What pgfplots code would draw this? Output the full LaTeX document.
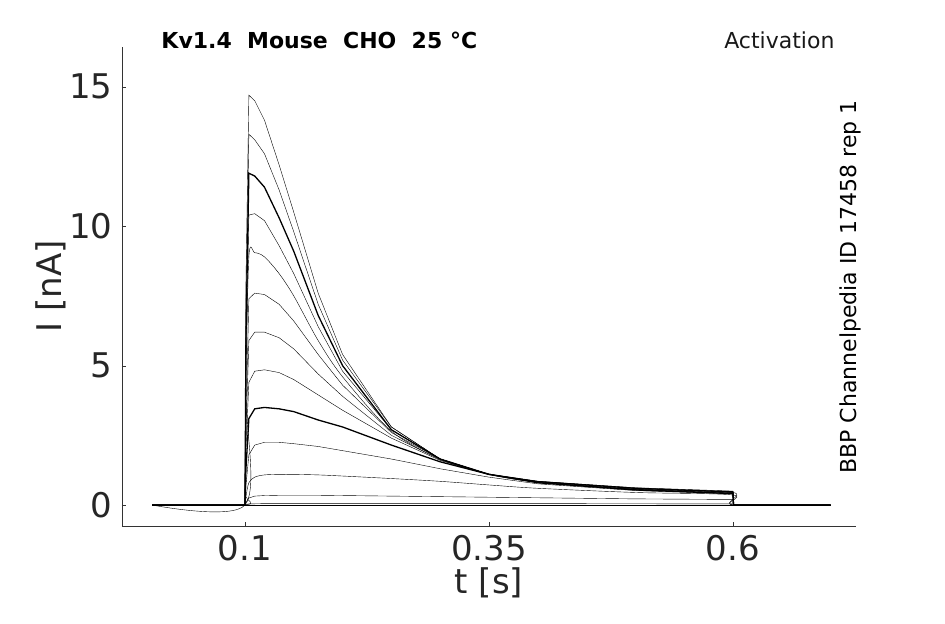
\documentclass[border=0pt]{standalone}
\usepackage{pgfplots}
\pgfplotsset{compat=1.18}
\usepackage{fontspec}
\setmainfont{DejaVu Sans}
\begin{document}
\begin{tikzpicture}[x=1pt,y=1pt]
\begin{axis}[
  scale only axis, width=734pt, height=479pt,
  xmin=-0.026, xmax=0.726, ymin=-0.75, ymax=16.43,
  axis lines*=left, axis line style={black!80},
  xtick={0.1,0.35,0.6}, xticklabels={0.1,0.35,0.6},
  ytick={0,5,10,15},
  tick style={black!80}, tick align=inside, major tick length=4pt,
  /pgf/number format/assume math mode=true,
  ticklabel style={font=\fontsize{34}{38}\selectfont, text=black!85},
  xticklabel style={yshift=-6pt},
  yticklabel style={xshift=-6pt},
  xlabel={t [s]}, ylabel={I [nA]},
  label style={font=\fontsize{34}{38}\selectfont, text=black!85},
  xlabel style={yshift=0pt}, ylabel style={yshift=-4pt},
  clip=false,
  cycle list={{black, no markers, line width=1.3pt, line join=round, smooth, tension=0.4}}
]
\addplot coordinates {(0.005,0)(0.1,0)(0.101,8)(0.104,14.7)(0.11,14.5)(0.12,13.8)(0.135,12.2)(0.15,10.5)(0.175,7.6)(0.2,5.4)(0.25,2.8)(0.3,1.65)(0.35,1.1)(0.4,0.85)(0.5,0.62)(0.6,0.5)(0.6005,0)(0.7,0)};
\addplot coordinates {(0.005,0)(0.1,0)(0.101,7)(0.104,13.3)(0.11,13.1)(0.12,12.6)(0.135,11.3)(0.15,9.8)(0.175,7.2)(0.2,5.2)(0.25,2.8)(0.3,1.65)(0.35,1.1)(0.4,0.85)(0.5,0.6)(0.6,0.48)(0.6005,0)(0.7,0)};
\addplot coordinates {(0.005,0)(0.1,0)(0.101,6)(0.104,11.9)(0.11,11.8)(0.12,11.4)(0.135,10.3)(0.15,9.1)(0.175,6.8)(0.2,5.0)(0.25,2.7)(0.3,1.65)(0.35,1.1)(0.4,0.84)(0.5,0.6)(0.6,0.47)(0.6005,0)(0.7,0)};
\addplot coordinates {(0.005,0)(0.1,0)(0.101,5)(0.104,10.4)(0.11,10.45)(0.12,10.2)(0.135,9.3)(0.15,8.3)(0.175,6.4)(0.2,4.8)(0.25,2.7)(0.3,1.65)(0.35,1.1)(0.4,0.83)(0.5,0.58)(0.6,0.46)(0.6005,0)(0.7,0)};
\addplot coordinates {(0.005,0)(0.1,0)(0.101,4)(0.104,8.9)(0.11,9.05)(0.12,8.9)(0.135,8.3)(0.15,7.5)(0.175,5.9)(0.2,4.6)(0.25,2.65)(0.3,1.65)(0.35,1.1)(0.4,0.82)(0.5,0.57)(0.6,0.45)(0.6005,0)(0.7,0)};
\addplot coordinates {(0.005,0)(0.1,0)(0.101,3)(0.104,7.4)(0.11,7.6)(0.12,7.55)(0.135,7.2)(0.15,6.6)(0.175,5.4)(0.2,4.3)(0.25,2.6)(0.3,1.65)(0.35,1.1)(0.4,0.8)(0.5,0.56)(0.6,0.44)(0.6005,0)(0.7,0)};
\addplot coordinates {(0.005,0)(0.1,0)(0.101,2.5)(0.104,5.9)(0.11,6.2)(0.12,6.2)(0.135,6.0)(0.15,5.6)(0.175,4.7)(0.2,3.9)(0.25,2.5)(0.3,1.62)(0.35,1.1)(0.4,0.8)(0.5,0.55)(0.6,0.43)(0.6005,0)(0.7,0)};
\addplot coordinates {(0.005,0)(0.1,0)(0.101,2)(0.104,4.4)(0.11,4.8)(0.12,4.85)(0.135,4.75)(0.15,4.5)(0.175,3.95)(0.2,3.4)(0.25,2.4)(0.3,1.6)(0.35,1.1)(0.4,0.8)(0.5,0.55)(0.6,0.42)(0.6005,0)(0.7,0)};
\addplot coordinates {(0.005,0)(0.1,0)(0.101,1.3)(0.104,3.1)(0.11,3.45)(0.12,3.5)(0.135,3.45)(0.15,3.35)(0.175,3.05)(0.2,2.8)(0.25,2.15)(0.3,1.55)(0.35,1.1)(0.4,0.8)(0.5,0.54)(0.6,0.41)(0.6005,0)(0.7,0)};
\addplot coordinates {(0.005,0)(0.1,0)(0.101,0.7)(0.104,1.8)(0.11,2.15)(0.12,2.25)(0.135,2.25)(0.15,2.2)(0.175,2.1)(0.2,1.95)(0.25,1.65)(0.3,1.3)(0.35,1.0)(0.4,0.76)(0.5,0.52)(0.6,0.4)(0.6005,0)(0.7,0)};
\addplot coordinates {(0.005,0)(0.1,0)(0.101,0.3)(0.104,0.8)(0.11,1.0)(0.12,1.08)(0.135,1.1)(0.15,1.1)(0.175,1.08)(0.2,1.04)(0.25,0.95)(0.3,0.85)(0.35,0.72)(0.4,0.6)(0.5,0.45)(0.6,0.36)(0.6005,0)(0.7,0)};
\addplot coordinates {(0.005,0)(0.1,0)(0.101,0.1)(0.104,0.25)(0.11,0.32)(0.12,0.34)(0.135,0.35)(0.15,0.35)(0.175,0.35)(0.2,0.34)(0.25,0.32)(0.3,0.3)(0.35,0.28)(0.4,0.26)(0.5,0.22)(0.6,0.2)(0.6005,0)(0.7,0)};
\addplot coordinates {(0.005,0)(0.1,0)(0.101,0.02)(0.104,0.04)(0.12,0.05)(0.2,0.05)(0.4,0.05)(0.6,0.04)(0.6005,0)(0.7,0)};
\addplot coordinates {(0.005,0)(0.7,0)};
\node[anchor=west, font=\fontsize{22}{26}\selectfont\bfseries] at (rel axis cs:0.049,1.0146) {Kv1.4\ \ Mouse\ \ CHO\ \ 25 °C};
\node[anchor=east, font=\fontsize{22}{26}\selectfont, text=black!90] at (rel axis cs:0.9755,1.0146) {Activation};
\node[rotate=90, font=\fontsize{22}{26}\selectfont] at (rel axis cs:0.9918,0.499) {BBP Channelpedia ID 17458 rep 1};
\path[use as bounding box] (rel axis cs:-0.1662,-0.2046) rectangle (rel axis cs:1.1213,1.098);
\end{axis}
\end{tikzpicture}
\end{document}
